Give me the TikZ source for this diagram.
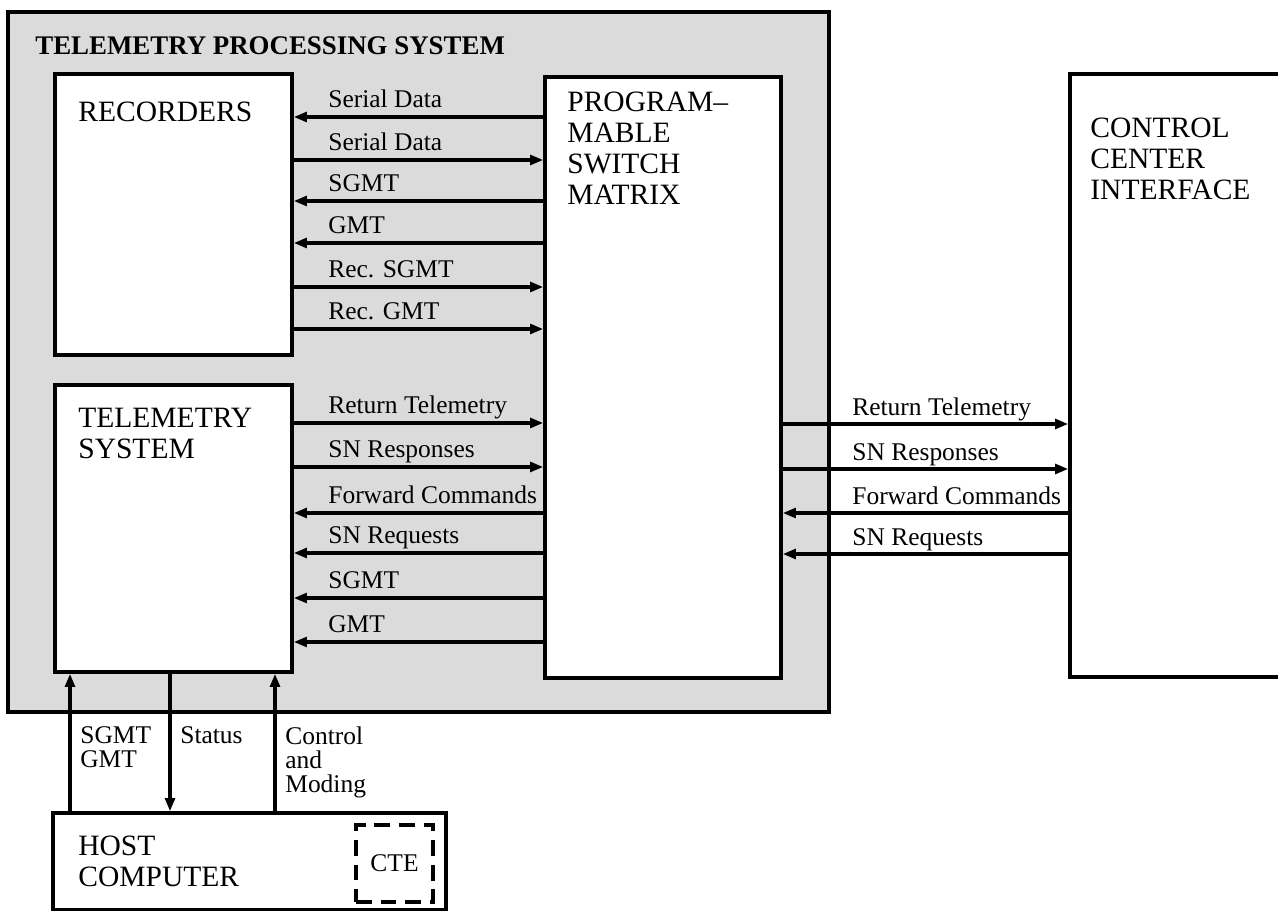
\documentclass[tikz,border=0pt]{standalone}
\usepackage{fontspec}
\setmainfont{Liberation Serif}
\usetikzlibrary{arrows.meta,fit}
\begin{document}
\begin{tikzpicture}[x=0.02cm,y=-0.02cm,
  boxst/.style={draw, line width=1.9pt, fill=white, inner sep=0pt},
  arr/.style={line width=1.9pt, -{Triangle[length=7.5pt,width=5.5pt]}},
  big/.style={font=\fontsize{16.8}{17.5}\selectfont, align=left, anchor=north west, inner sep=0pt},
  lab/.style={font=\fontsize{14.5}{15}\selectfont, anchor=base west, inner sep=0pt},
  blab/.style={font=\fontsize{14.5}{13.8}\selectfont, align=left, anchor=north west, inner sep=0pt}]
\useasboundingbox (0,0) rectangle (1278,911);
% outer system
\node[fit={(8,12)(829,712)}, draw, line width=2.3pt, fill=black!14, inner sep=0pt] (tps) {};
\node[anchor=base west, inner sep=0pt, font=\fontsize{15.3}{18}\selectfont\bfseries] (title) at (35,55) {TELEMETRY PROCESSING SYSTEM};
% boxes
\node[boxst, fit={(55,74)(292,355)}] (rec) {};
\node[boxst, fit={(545,77)(781,678)}] (psm) {};
\node[boxst, fit={(55,385)(292,672)}] (ts) {};
\node[boxst, fit={(1070,74)(1310,677)}] (cci) {};
\node[boxst, fit={(53,813)(446,910)}] (host) {};
\node[draw, dash pattern=on 9pt off 5pt, line width=1.8pt, fit={(356,825)(433,902)}, inner sep=0pt] (cte) {};
% box texts
\node[big] (recT) at (78,102) {RECORDERS};
\node[big] (psmT) at (567,92) {PROGRAM--\\MABLE\\SWITCH\\MATRIX};
\node[big] (tsT) at (78,408) {TELEMETRY\\SYSTEM};
\node[big] (cciT) at (1090,118) {CONTROL\\CENTER\\INTERFACE};
\node[big] (hostT) at (78,836) {HOST\\COMPUTER};
\node[font=\fontsize{14.5}{15}\selectfont, inner sep=0pt] (cteT) at (cte.center) {CTE};
% row coordinates
\foreach \n/\y in {a/117,b/160,c/201,d/243,e/287,f/329,g/423,h/467,i/513,j/553,k/598,l/642,m/424,n/469,o/513,p/554}
  \coordinate (r\n) at (0,\y);
% recorders <-> switch
\draw[arr] (psm.west |- ra) -- (rec.east |- ra);
\draw[arr] (rec.east |- rb) -- (psm.west |- rb);
\draw[arr] (psm.west |- rc) -- (rec.east |- rc);
\draw[arr] (psm.west |- rd) -- (rec.east |- rd);
\draw[arr] (rec.east |- re) -- (psm.west |- re);
\draw[arr] (rec.east |- rf) -- (psm.west |- rf);
\node[lab] (la) at (328,108) {Serial Data};
\node[lab] (lb) at (328,151) {Serial Data};
\node[lab] (lc) at (328,192) {SGMT};
\node[lab] (ld) at (328,234) {GMT};
\node[lab] (le) at (328,278) {Rec. SGMT};
\node[lab] (lf) at (328,320) {Rec. GMT};
% telemetry system <-> switch
\draw[arr] (ts.east |- rg) -- (psm.west |- rg);
\draw[arr] (ts.east |- rh) -- (psm.west |- rh);
\draw[arr] (psm.west |- ri) -- (ts.east |- ri);
\draw[arr] (psm.west |- rj) -- (ts.east |- rj);
\draw[arr] (psm.west |- rk) -- (ts.east |- rk);
\draw[arr] (psm.west |- rl) -- (ts.east |- rl);
\node[lab] (lg) at (328,414) {Return Telemetry};
\node[lab] (lh) at (328,458) {SN Responses};
\node[lab] (li) at (328,504) {Forward Commands};
\node[lab] (lj) at (328,544) {SN Requests};
\node[lab] (lk) at (328,589) {SGMT};
\node[lab] (ll) at (328,633) {GMT};
% switch <-> control center
\draw[arr] (psm.east |- rm) -- (cci.west |- rm);
\draw[arr] (psm.east |- rn) -- (cci.west |- rn);
\draw[arr] (cci.west |- ro) -- (psm.east |- ro);
\draw[arr] (cci.west |- rp) -- (psm.east |- rp);
\node[lab] (lm) at (852,416) {Return Telemetry};
\node[lab] (ln) at (852,461) {SN Responses};
\node[lab] (lo) at (852,505) {Forward Commands};
\node[lab] (lp) at (852,546) {SN Requests};
% host <-> telemetry system
\coordinate (c1) at (70,0);
\coordinate (c2) at (170,0);
\coordinate (c3) at (275,0);
\draw[arr] (host.north -| c1) -- (ts.south -| c1);
\draw[arr] (ts.south -| c2) -- (host.north -| c2);
\draw[arr] (host.north -| c3) -- (ts.south -| c3);
\node[blab] (v1) at (80,726) {SGMT\\GMT};
\node[blab] (v2) at (180,726) {Status};
\node[blab] (v3) at (285,726) {Control\\and\\Moding};
\end{tikzpicture}
\end{document}
